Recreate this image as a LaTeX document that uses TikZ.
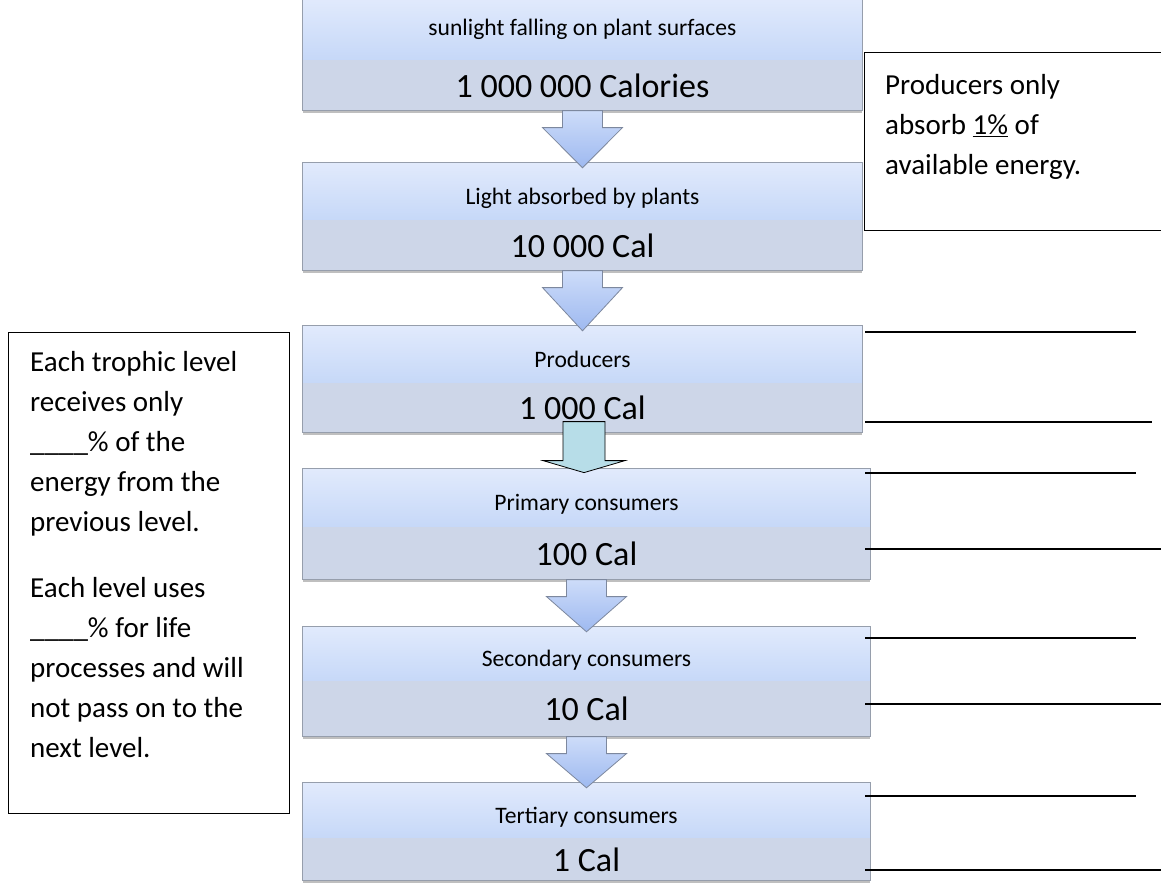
\documentclass[tikz,border=0pt]{standalone}
\usepackage{fontspec}
\setmainfont{Carlito}
\usetikzlibrary{positioning,calc,shadows}

\definecolor{lvllight}{RGB}{225,234,252}
\definecolor{lvlblue}{RGB}{198,216,248}
\definecolor{lvlgray}{RGB}{205,214,232}
\definecolor{lvledge}{RGB}{150,158,172}
\definecolor{arrtop}{RGB}{205,220,249}
\definecolor{arrbot}{RGB}{158,185,240}
\definecolor{arredge}{RGB}{125,136,158}
\definecolor{arrteal}{RGB}{183,221,232}

% block arrow from the bottom of #1 down to the top of #2
\newcommand\lvlarrow[2]{%
  \draw[lvlarrow] ($(#1.south)+(-20,0)$) -- ($(#1.south)+(20,0)$)
    -- ($(#1.south)+(20,17)$) -- ($(#1.south)+(40,17)$)
    -- ($(#1.south |- #2.north)+(0,5)$)
    -- ($(#1.south)+(-40,17)$) -- ($(#1.south)+(-20,17)$) -- cycle;}

\begin{document}
\begin{tikzpicture}[x=1pt, y=-1pt,
    lvlname/.style={minimum width=559, minimum height=57, inner sep=0,
      text height=30pt, text depth=5pt,
      top color=lvllight, bottom color=lvlblue, font=\fontsize{23.6}{28}\selectfont},
    lvlval/.style={minimum width=559, minimum height=50, inner sep=0, fill=lvlgray,
      font=\fontsize{34}{40}\selectfont,
      drop shadow={shadow xshift=0pt, shadow yshift=-2.5pt, fill=black, opacity=.25}},
    lvlframe/.style={draw=lvledge, line width=1},
    lvlarrow/.style={draw=arredge, line width=.8, top color=arrtop, bottom color=arrbot},
    sidebox/.style={draw, line width=1.3, inner sep=0, fill=white},
    sidetext/.style={align=left, inner sep=0, font=\fontsize{29}{40}\selectfont}]
  \useasboundingbox (0,0) rectangle (1161,883);
  \clip (0,0) rectangle (1161,883);

  % energy levels
  \node[lvlname, minimum height=62, text height=18pt] (sun) at (582.5,29) {sunlight falling on plant surfaces};
  \node[lvlval, below=0pt of sun] (sunval) {1 000 000 Calories};
  \draw[lvlframe] (sun.north west) rectangle (sunval.south east);

  \node[lvlname] (light) at (582.5,191.5) {Light absorbed by plants};
  \node[lvlval, below=0pt of light] (lightval) {10 000 Cal};
  \draw[lvlframe] (light.north west) rectangle (lightval.south east);

  \node[lvlname] (prod) at (582.5,354.5) {Producers};
  \node[lvlval, minimum height=49, below=0pt of prod] (prodval) {1 000 Cal};
  \draw[lvlframe] (prod.north west) rectangle (prodval.south east);

  \node[lvlname, minimum width=567, minimum height=58] (prim) at (586.5,498) {Primary consumers};
  \node[lvlval, minimum width=567, minimum height=52, below=0pt of prim] (primval) {100 Cal};
  \draw[lvlframe] (prim.north west) rectangle (primval.south east);

  \node[lvlname, minimum width=567, minimum height=54] (sec) at (586.5,654) {Secondary consumers};
  \node[lvlval, minimum width=567, minimum height=55, below=0pt of sec] (secval) {10 Cal};
  \draw[lvlframe] (sec.north west) rectangle (secval.south east);

  \node[lvlname, minimum width=567, minimum height=55] (tert) at (586.5,810.5) {Tertiary consumers};
  \node[lvlval, minimum width=567, minimum height=42, below=0pt of tert] (tertval) {1 Cal};
  \draw[lvlframe] (tert.north west) rectangle (tertval.south east);

  % arrows between levels
  \lvlarrow{sunval}{light}
  \lvlarrow{lightval}{prod}
  \draw[draw=black, line width=.8, fill=arrteal]
    ($(prodval.south)+(-19.5,-11)$) -- ($(prodval.south)+(22.5,-11)$)
    -- ($(prodval.south)+(22.5,28)$) -- ($(prodval.south)+(42.5,28)$)
    -- ($(prodval.south)+(1.5,40)$)
    -- ($(prodval.south)+(-39.5,28)$) -- ($(prodval.south)+(-19.5,28)$) -- cycle;
  \lvlarrow{primval}{sec}
  \lvlarrow{secval}{tert}

  % side notes
  \node[sidebox, anchor=north west, minimum width=330, minimum height=178] (absorbbox) at (864,52) {};
  \node[sidetext, anchor=north west] (absorbtext) at (885,74)
    {Producers only\\ absorb \underline{1\%} of\\ available energy.};

  \node[sidebox, anchor=north west, minimum width=281, minimum height=481] (levelbox) at (8,332) {};
  \node[sidetext, anchor=north west] (leveltext) at (30,351)
    {Each trophic level\\ receives only\\ \_\_\_\_\% of the\\ energy from the\\ previous level.\\[26pt]
     Each level uses\\ \_\_\_\_\% for life\\ processes and will\\ not pass on to the\\ next level.};

  % answer lines
  \foreach \y/\e in {332/1136, 422/1152, 473/1136, 549/1161, 638/1136, 704/1161, 796/1136, 870/1161}
    \draw[line width=1.5] (865,\y) -- (\e,\y);
\end{tikzpicture}
\end{document}
